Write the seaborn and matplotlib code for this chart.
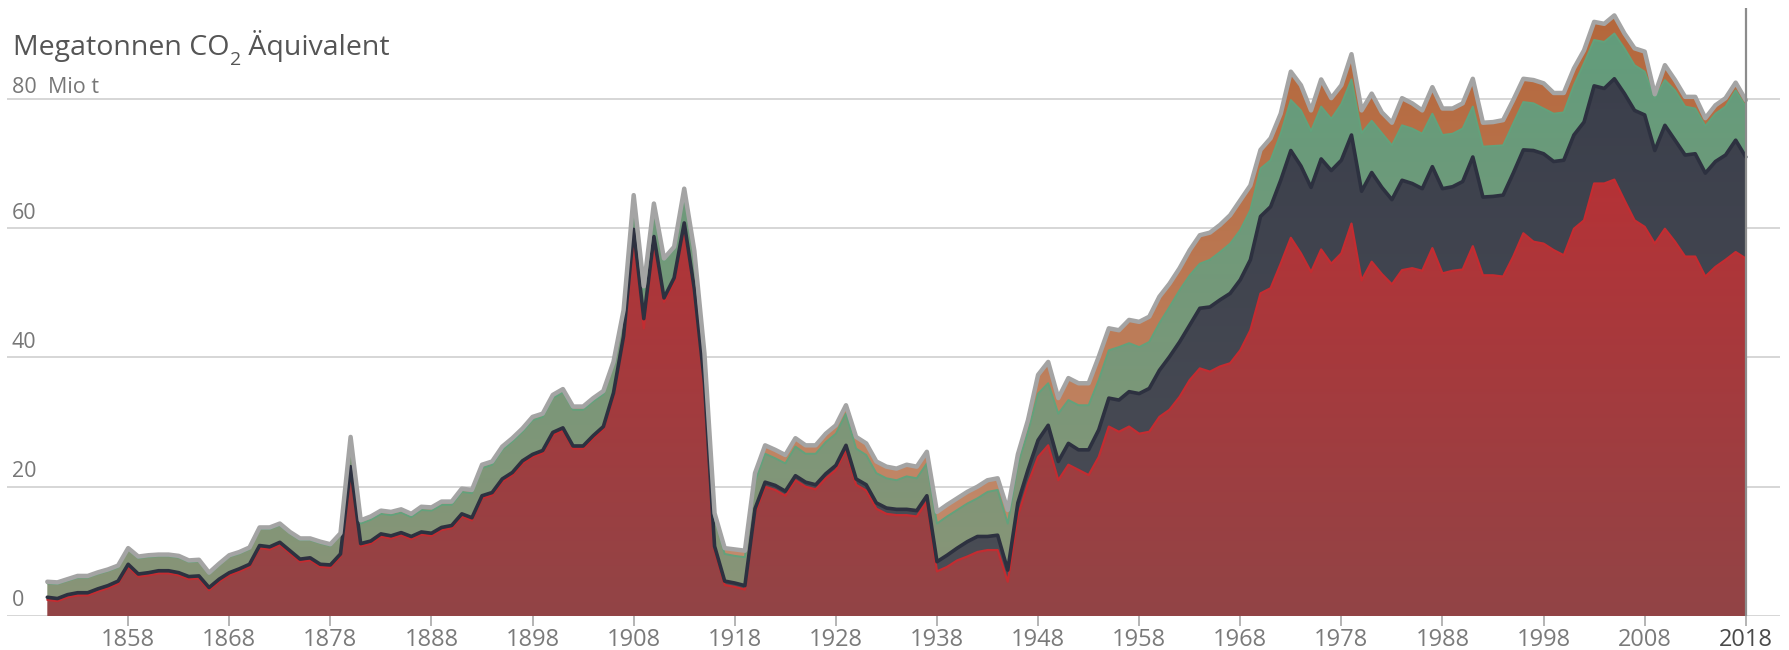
import numpy as np
import matplotlib
matplotlib.use("Agg")
import matplotlib.pyplot as plt
import seaborn as sns
from matplotlib.colors import to_rgb
from matplotlib.patches import Polygon

years = np.arange(1850, 2019)

# Mio t CO2 equivalent per layer
red = [2.5, 2.3, 2.9, 3.2, 3.2, 3.8, 4.3, 5.0, 7.6, 6.1,
       6.3, 6.6, 6.6, 6.3, 5.7, 5.8, 4.0, 5.3, 6.3, 6.9,
       7.6, 10.5, 10.3, 11.0, 9.7, 8.4, 8.6, 7.6, 7.5, 9.2,
       22.1, 10.8, 11.2, 12.3, 12.0, 12.5, 11.9, 12.6, 12.4, 13.3,
       13.6, 15.4, 14.8, 18.2, 18.7, 20.8, 21.8, 23.6, 24.6, 25.2,
       28.0, 28.7, 25.9, 25.9, 27.5, 28.9, 33.9, 42.7, 59.2, 44.5,
       58.1, 48.6, 51.7, 60.2, 50.0, 35.5, 10.2, 4.8, 4.5, 4.1,
       15.9, 20.0, 19.5, 18.6, 21.0, 20.0, 19.6, 21.3, 22.6, 25.7,
       20.3, 19.4, 16.6, 15.8, 15.6, 15.6, 15.4, 17.7, 6.9, 7.6,
       8.6, 9.2, 9.9, 10.2, 10.2, 5.3, 15.5, 20.5, 24.6, 26.4,
       21.0, 23.4, 22.6, 21.8, 24.6, 29.3, 28.5, 29.3, 28.2, 28.5,
       30.8, 31.9, 33.9, 36.5, 38.3, 37.8, 38.6, 39.1, 41.1, 44.2,
       49.9, 50.7, 54.5, 58.5, 56.1, 53.2, 56.7, 54.5, 56.1, 60.7,
       51.9, 54.8, 52.9, 51.3, 53.5, 53.8, 53.4, 56.9, 53.0, 53.4,
       53.6, 57.2, 52.7, 52.7, 52.5, 55.6, 59.2, 57.9, 57.6, 56.6,
       55.8, 59.9, 61.2, 66.9, 66.9, 67.5, 64.3, 61.2, 60.2, 57.6,
       59.9, 57.9, 55.6, 55.6, 52.5, 54.0, 55.1, 56.3, 55.3]

navy = ([0.4] * 30 + [1.0] + [0.4] * 25 +
        [0.6, 0.6, 0.6, 1.5] + [0.6] * 10 +
        [0.7] * 10 + [0.9] * 8 +
        [1.5, 1.8, 1.9, 2.3, 2.4, 2.1, 2.3] +
        [1.8, 2.0, 2.1, 2.6, 3.1,
         2.9, 3.3, 3.1, 3.9, 4.2, 4.4, 4.9, 5.4, 6.2, 6.7,
         7.2, 8.2, 8.5, 8.5, 9.3, 10.0, 10.3, 10.8, 10.9, 10.9,
         11.9, 12.6, 12.9, 13.5, 13.5, 13.1, 14.0, 14.4, 14.4, 13.7,
         13.8, 13.8, 13.4, 13.1, 13.9, 13.1, 12.7, 12.6, 13.1, 13.0,
         13.6, 13.8, 12.1, 12.2, 12.6, 12.9, 12.9, 14.1, 13.9, 13.7,
         14.7, 14.5, 15.2, 15.1, 14.7, 15.6, 16.5, 17.0, 17.3, 14.4,
         16.0, 15.7, 15.7, 15.9, 16.0, 16.3, 16.2, 17.3, 15.7])

green = [2.15, 2.25, 2.15, 2.35, 2.35, 2.3, 2.25, 2.15, 2.25, 2.45,
         2.45, 2.25, 2.25, 2.35, 2.25, 2.25, 2.05, 2.15, 2.45, 2.35,
         2.35, 2.55, 2.75, 2.65, 2.65, 2.95, 2.75, 3.25, 2.95, 2.95,
         4.3, 3.1, 3.3, 3.1, 3.2, 3.1, 3.0, 3.4, 3.5, 3.5,
         3.2, 3.4, 3.8, 4.3, 4.3, 4.5, 4.8, 4.5, 5.3, 5.2,
         5.3, 5.5, 5.6, 5.6, 5.3, 5.0, 4.5, 3.7, 5.0, 4.5,
         4.8, 5.8, 4.5, 5.0, 5.6, 4.2, 4.5, 4.2, 4.2, 4.4,
         4.2, 4.4, 4.2, 4.3, 4.5, 4.4, 4.8, 4.9, 4.9, 4.9,
         4.7, 4.6, 4.6, 4.6, 4.5, 5.1, 5.0, 5.0, 5.9, 6.0,
         5.9, 5.9, 5.9, 6.9, 7.0, 7.2, 6.0, 5.9, 7.2, 6.5,
         7.4, 6.7, 6.9, 6.9, 7.7, 7.4, 8.2, 7.5, 7.2, 7.2,
         7.3, 7.7, 8.0, 7.7, 6.9, 7.3, 7.4, 7.7, 7.7, 7.7,
         7.4, 7.2, 7.2, 7.8, 8.6, 8.7, 8.1, 8.0, 8.7, 8.6,
         9.0, 8.0, 8.4, 8.4, 8.5, 8.5, 8.5, 8.2, 8.3, 8.2,
         8.2, 7.8, 7.8, 7.8, 7.7, 7.7, 7.4, 7.3, 7.0, 7.4,
         7.4, 7.7, 9.1, 7.1, 7.2, 7.0, 7.0, 7.0, 6.7, 8.1,
         7.0, 7.7, 7.5, 7.0, 7.3, 7.4, 7.5, 7.7, 7.8]

orange = ([0.25] * 30 + [0.3] + [0.5] * 25 +
          [0.3, 0.3, 0.3, 0.5] + [0.3] * 6 + [0.6, 0.9, 1.0, 1.0] +
          [1.3] * 10 + [1.8] * 8 + [1.8] * 7 +
          [2.1, 1.5, 1.8, 2.9, 3.3,
           2.4, 3.4, 3.4, 3.4, 3.6, 3.4, 2.6, 3.6, 3.9, 3.9,
           4.1, 3.6, 3.4, 3.9, 4.4, 4.2, 4.2, 4.4, 4.6, 3.8,
           2.9, 3.4, 3.1, 4.4, 3.9, 3.2, 4.2, 3.2, 2.9, 3.9,
           3.5, 4.2, 3.2, 3.5, 4.2, 3.9, 3.6, 4.1, 4.1, 3.9,
           3.9, 4.3, 3.7, 3.7, 3.9, 3.6, 3.6, 3.6, 3.9, 3.2,
           3.0, 2.6, 2.0, 2.8, 2.8, 2.8, 2.3, 2.6, 3.1, 0.6,
           2.3, 1.6, 1.5, 1.8, 1.2, 1.3, 1.3, 1.2, 1.0])

y_ticks = [0, 20, 40, 60, 80]
x_ticks = list(range(1858, 2019, 10))

W, H = 1789, 650
PX_YEAR = 10.11          # pixels per year
X0_PX = 47.3             # pixel position of 1850
ZERO_PX = 616            # pixel row of the zero line
PX_UNIT = 6.465          # pixels per Mio t

sns.set_theme(style="white")
plt.rcParams["font.family"] = ["Open Sans", "DejaVu Sans"]

fig = plt.figure(figsize=(W / 100, H / 100), dpi=100)
ax_left, ax_right = 7, 1780
ax = fig.add_axes([ax_left / W, (H - ZERO_PX) / H, (ax_right - ax_left) / W, ZERO_PX / H])
xmin = 1850 - (X0_PX - ax_left) / PX_YEAR
xmax = 1850 + (ax_right - X0_PX) / PX_YEAR
ymax = ZERO_PX / PX_UNIT

for v in y_ticks:
    ax.axhline(v, color="#d6d6d6", lw=1.4, zorder=0)


def gradient_layer(lower, upper, top_col, bot_col, z=1):
    # vertical colour ramp from value 0 (bot_col) to the top of the axes (top_col)
    verts = np.vstack([np.column_stack([years, upper]),
                       np.column_stack([years[::-1], lower[::-1]])])
    poly = Polygon(verts, closed=True, facecolor="none", edgecolor="none")
    ax.add_patch(poly)
    t = np.linspace(0, 1, 256)[:, None]
    c0, c1 = np.array(to_rgb(bot_col)), np.array(to_rgb(top_col))
    img = (c0 + (c1 - c0) * t)[:, None, :]
    im = ax.imshow(img, extent=[xmin, xmax, 0, ymax], origin="lower",
                   aspect="auto", interpolation="bilinear", zorder=z)
    im.set_clip_path(poly)


r = np.array(red)
n = r + np.array(navy)
g = n + np.array(green)
o = g + np.array(orange)
zero = np.zeros_like(r)

gradient_layer(zero, r, "#c32b30", "#924446", z=1)
gradient_layer(r, n, "#393d4a", "#4b4e56", z=2)
gradient_layer(n, g, "#609d7c", "#8a9477", z=3)
gradient_layer(g, o, "#b4663a", "#c48f72", z=4)

sns.lineplot(x=years, y=r, ax=ax, color="#c42c31", lw=1.6, zorder=5)
sns.lineplot(x=years, y=n, ax=ax, color="#2d3140", lw=2.6, zorder=6)
sns.lineplot(x=years, y=g, ax=ax, color="#62a27c", lw=1.4, zorder=6)
sns.lineplot(x=years, y=o, ax=ax, color="#a4a4a4", lw=3.2, zorder=7)

# marker line at the last year
ax.plot([2018, 2018], [0, (ZERO_PX - 8) / PX_UNIT], color="#8c8c8c", lw=1.6,
        zorder=8, solid_capstyle="butt")

ax.set_xlim(xmin, xmax)
ax.set_ylim(0, ymax)
ax.set_xticks(x_ticks)
ax.set_xticklabels([str(x) for x in x_ticks])
ax.set_yticks([])
ax.tick_params(axis="x", length=7, width=1.2, color="#a8a8a8", pad=2,
               labelsize=17, labelcolor="#7a7a7a", bottom=True)
ax.get_xticklabels()[-1].set_color("#4a4a4a")
for s in ax.spines.values():
    s.set_visible(False)
ax.set_ylabel("")
ax.set_xlabel("")

for v in y_ticks:
    label = "80  Mio t" if v == 80 else str(v)
    ypx = ZERO_PX - v * PX_UNIT - (11 if v == 80 else 15)
    fig.text(12 / W, 1 - ypx / H, label, fontsize=15.5, color="#777777",
             ha="left", va="center")

# title with a real subscript 2
t1 = fig.text(13 / W, 1 - 62 / H, "Megatonnen CO", fontsize=20.5,
              color="#555555", ha="left", va="bottom")
t2 = ax.annotate("2", xy=(1, 0), xycoords=t1, xytext=(0.5, -5),
                 textcoords="offset points", fontsize=14, color="#555555",
                 ha="left", va="bottom", annotation_clip=False)
ax.annotate(" \u00c4quivalent", xy=(1, 0), xycoords=(t2, t1), xytext=(0, 0),
            textcoords="offset points", fontsize=20.5, color="#555555",
            ha="left", va="bottom", annotation_clip=False)

fig.savefig("out.png", dpi=100)
